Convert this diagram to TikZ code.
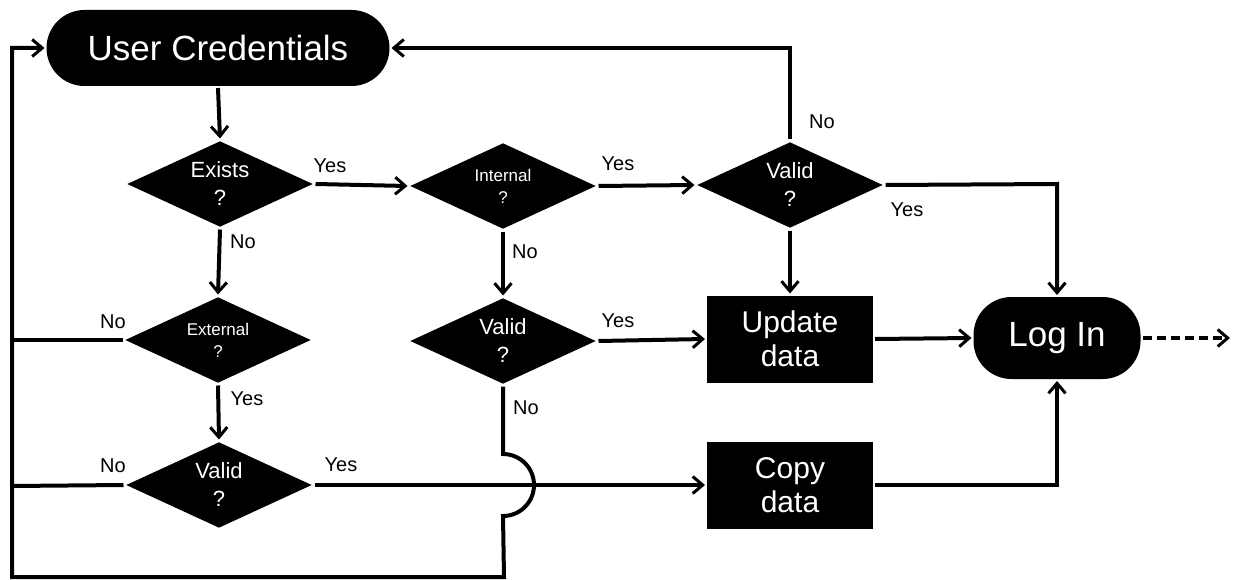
\documentclass[tikz,border=0pt]{standalone}
\usepackage{fontspec}
\setmainfont{Liberation Sans}
\usetikzlibrary{shapes.geometric,arrows.meta}
\begin{document}
\begin{tikzpicture}[x=1pt,y=-1pt,
  line width=4pt,
  arr/.style={-{Straight Barb[length=10pt,width=17pt,line width=3pt]}},
  dec/.style={diamond, fill=black, text=white, minimum width=187pt, minimum height=87pt,
    inner sep=0pt, aspect=2.1, align=center, draw=none},
  pill/.style={rectangle, rounded corners=38pt, fill=black, text=white, inner sep=0pt,
    align=center, font=\fontsize{35}{40}\selectfont},
  box/.style={rectangle, fill=black, text=white, inner sep=0pt, minimum width=166pt,
    minimum height=87pt, align=center, font=\fontsize{30}{34}\selectfont},
  big/.style={font=\fontsize{22}{28}\selectfont},
  small/.style={font=\fontsize{17}{22}\selectfont},
  lbl/.style={font=\fontsize{20}{24}\selectfont, inner sep=0pt}
]
\useasboundingbox (0,0) rectangle (1236,580);

% nodes
\node[pill, minimum width=343pt, minimum height=76pt] (uc) at (218,48) {User Credentials};
\node[dec, big] (ex) at (220,184) {Exists\\?};
\node[dec, small] (in) at (503,186) {Internal\\?};
\node[dec, big] (vtr) at (790,185) {Valid\\?};
\node[dec, small] (ext) at (218,340) {External\\?};
\node[dec, big] (vm) at (503,341) {Valid\\?};
\node[dec, big] (vbl) at (219,485) {Valid\\?};
\node[box] (upd) at (790,339) {Update\\data};
\node[box] (cpy) at (790,485) {Copy\\data};
\node[pill, minimum width=167pt, minimum height=82pt] (log) at (1057,338) {Log In};

% helper coordinates
\coordinate (tl) at (12,48);
\coordinate (bl) at (12,577);
\coordinate (br) at (504,577);
\coordinate (extl) at (12,340);
\coordinate (vbll) at (12,486);
\coordinate (hopa) at (503,454);
\coordinate (hopb) at (504,516);
\coordinate (vtrup) at (790,48);
\coordinate (vtrr) at (1057,184);
\coordinate (cpyr) at (1057,485);
\coordinate (dashend) at (1230,338);

% connectors
\draw[arr] (uc.south) -- (ex.north);
\draw[arr] (ex.east) -- (in.west);
\draw[arr] (ex.south) -- (ext.north);
\draw (ext.west) -- (extl);
\draw[arr] (ext.south) -- (vbl.north);
\draw (vbl.west) -- (vbll);
\draw[arr] (vbl.east) -- (cpy.west);
\draw[arr] (in.east) -- (vtr.west);
\draw[arr] (in.south) -- (vm.north);
\draw[arr] (vm.east) -- (upd.west);
\draw[arr] (vm.south) -- (hopa) arc[start angle=-90, end angle=90, radius=31] -- (br) -- (bl) -- (tl) -- (uc.west);
\draw[arr] (vtr.north) -- (vtrup) -- (uc.east);
\draw[arr] (vtr.south) -- (upd.north);
\draw[arr] (vtr.east) -- (vtrr) -- (log.north);
\draw[arr] (upd.east) -- (log.west);
\draw[arr] (cpy.east) -- (cpyr) -- (log.south);
\draw[arr, dash pattern=on 9pt off 5pt] (log.east) -- (dashend);

% labels
\node[lbl] (l1) at (330,166) {Yes};
\node[lbl] (l2) at (243,242) {No};
\node[lbl] (l3) at (618,164) {Yes};
\node[lbl] (l4) at (525,252) {No};
\node[lbl] (l5) at (822,122) {No};
\node[lbl] (l6) at (907,210) {Yes};
\node[lbl] (l7) at (113,322) {No};
\node[lbl] (l8) at (247,399) {Yes};
\node[lbl] (l9) at (113,466) {No};
\node[lbl] (l10) at (341,465) {Yes};
\node[lbl] (l11) at (618,321) {Yes};
\node[lbl] (l12) at (526,408) {No};
\end{tikzpicture}
\end{document}
